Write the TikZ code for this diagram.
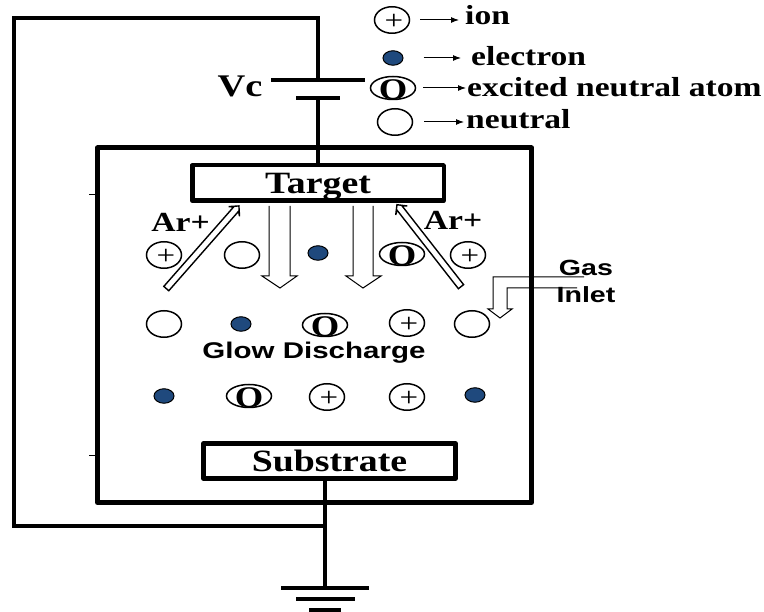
\documentclass[tikz,border=0pt]{standalone}
\usepackage{fontspec}
\setmainfont[FakeStretch=1.22]{Liberation Serif}
\newfontfamily\glowfont[FakeStretch=1.3]{Liberation Sans}
\usepackage{tikz}
\usetikzlibrary{shapes.geometric,shapes.arrows,arrows.meta}
\definecolor{electronblue}{RGB}{31,73,125}
\tikzset{
  wire/.style={line width=3.5pt},
  wall/.style={line width=5pt,line join=round},
  plate/.style={draw,line width=4.5pt,line join=round,fill=white,font=\fontsize{31}{31}\selectfont\bfseries,inner sep=0pt,text height=21pt,text depth=0pt},
  particle/.style={draw,line width=1.5pt,ellipse,inner sep=0pt,fill=white},
  neutral/.style={particle,minimum width=35pt,minimum height=26.5pt},
  ion/.style={neutral,label={[inner sep=0pt,xshift=2pt,yshift=-2pt,font=\fontsize{27}{27}\selectfont]center:+}},
  electron/.style={draw,line width=1pt,ellipse,fill=electronblue,minimum width=20pt,minimum height=14.5pt,inner sep=0pt},
  excited/.style={particle,minimum width=45pt,minimum height=23pt,label={[inner sep=0pt,yshift=-2pt,font=\fontsize{30}{30}\selectfont\bfseries]center:O}},
  legendtext/.style={anchor=base west,inner sep=0pt,font=\fontsize{27.5}{27.5}\selectfont\bfseries},
  legendarrow/.style={-{Latex[length=8pt,width=6pt]},line width=1pt},
  aflow/.style={line width=1pt,line join=miter},
  arflow/.style={draw,fill=white,single arrow,line width=1.4pt,inner sep=2.6pt,single arrow head extend=4pt,single arrow head indent=3pt,minimum width=14pt},
  arlabel/.style={anchor=base,inner sep=0pt,font=\fontsize{27.6}{27.6}\selectfont\bfseries},
  sanslabel/.style={anchor=base,inner sep=0pt,font=\glowfont\fontsize{22}{22}\selectfont\bfseries},
}
\begin{document}
\begin{tikzpicture}[x=1pt,y=-1pt]
  \useasboundingbox (0,0) rectangle (764,612);
  \draw[wall] (97.5,148) rectangle (531.5,502.5);
  \draw[line width=.7pt] (89,194)--(97,194);
  \draw[line width=.7pt] (89,455)--(97,455);
  % electrodes
  \node[plate,minimum width=251.5pt,minimum height=35.5pt] (target) at (318,183) {Target};
  \node[plate,minimum width=252pt,minimum height=35pt] (substrate) at (329.5,461) {Substrate};
  % supply
  \coordinate (topplate) at (318,80);
  \coordinate (lowplate) at (318,98);
  \coordinate (earth) at (325,588);
  \coordinate (junction) at (325,526);
  \draw[wire] (lowplate)--(lowplate|-target.north);
  \draw[wire,line join=miter] (topplate)--(318,18)--(14,18)--(14,526)--(junction);
  \draw[wire] (earth)--(junction)--(junction|-substrate.south);
  \draw[wire] (271,80)--(365,80);
  \draw[wire] (296,98)--(340,98);
  \draw[wire] (281,588)--(369,588);
  \draw[wire] (296,599)--(355,599);
  \draw[wire] (309,610)--(341,610);
  \node[arlabel,font=\fontsize{31.5}{31.5}\selectfont\bfseries] (vc) at (240,97) {Vc};
  % legend
  \node[ion] (legion) at (392,20) {};
  \node[electron] (legelectron) at (393,58) {};
  \node[excited] (legexcited) at (393,88) {};
  \node[neutral] (legneutral) at (395,122) {};
  \node[legendtext] (tion) at (465,25) {ion};
  \node[legendtext] (telectron) at (471,66) {electron};
  \node[legendtext] (texcited) at (467,97) {excited neutral atom};
  \node[legendtext] (tneutral) at (466,129) {neutral};
  \draw[legendarrow,shorten <=10pt,shorten >=6pt] (legion.east)--(legion-|tion.west);
  \draw[legendarrow,shorten <=20pt,shorten >=10pt] (legelectron.east)--(legelectron-|telectron.west);
  \draw[legendarrow,shorten <=7pt,shorten >=1pt] (legexcited.east)--(legexcited-|texcited.west);
  \draw[legendarrow,shorten <=11pt,shorten >=2pt] (legneutral.east)--(legneutral-|tneutral.west);
  % particles
  \node[ion] (a1) at (164,255) {};
  \node[neutral] (a2) at (242,255) {};
  \node[electron] (a3) at (318,253) {};
  \node[excited] (a4) at (402,254) {};
  \node[ion] (a5) at (468,255) {};
  \node[neutral] (b1) at (164,324) {};
  \node[electron] (b2) at (241,324) {};
  \node[excited] (b3) at (325,325) {};
  \node[ion] (b4) at (407,323) {};
  \node[neutral] (b5) at (472,324) {};
  \node[electron] (c1) at (164,396) {};
  \node[excited] (c2) at (249,396) {};
  \node[ion] (c3) at (327,397) {};
  \node[ion] (c4) at (407,397) {};
  \node[electron] (c5) at (475,395) {};
  \node[sanslabel,font=\glowfont\fontsize{22.7}{22.7}\selectfont\bfseries] (glow) at (314,359) {Glow Discharge};
  % flow arrows
  \node[arflow,minimum height=110pt,rotate=48.7] (arleft) at (201.5,248.5) {};
  \node[arflow,minimum height=104pt,rotate=128] (arright) at (430,247) {};
  \node[arlabel] (arl) at (180.5,232) {Ar+};
  \node[arlabel] (arr) at (453,230) {Ar+};
  \draw[aflow] (269,206)--(269,276)--(262,276)--(280,288)--(297,276)--(290,276)--(290,206);
  \draw[aflow] (353,206)--(353,276)--(346,276)--(363,288)--(381,276)--(373,276)--(373,206);
  \draw[aflow] (584,277)--(493,277)--(493,309)--(488,309)--(500,318)--(512,309)--(507,309)--(507,288)--(577,288);
  \node[sanslabel] (gas) at (586,276) {Gas};
  \node[sanslabel] (inlet) at (586,303) {Inlet};
\end{tikzpicture}
\end{document}
